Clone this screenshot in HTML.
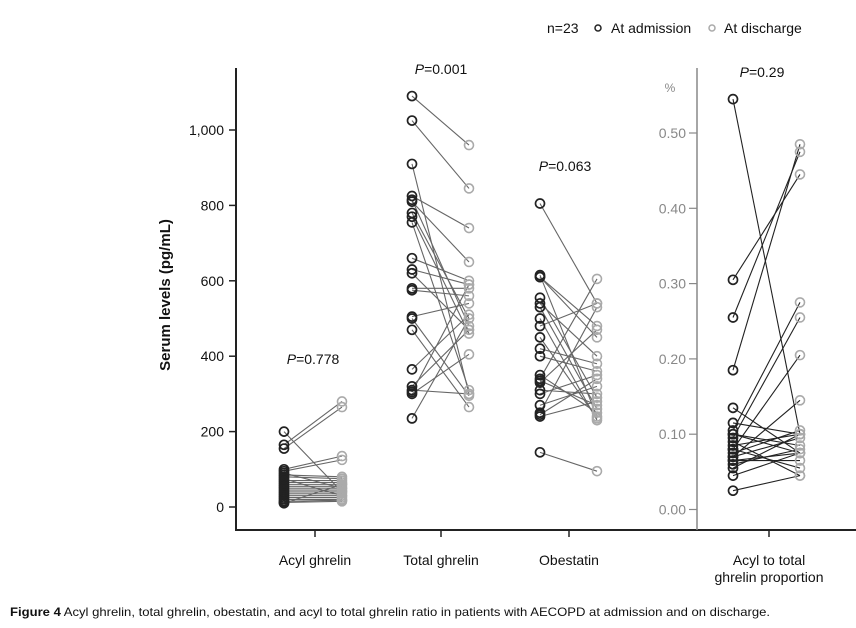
<!DOCTYPE html>
<html><head><meta charset="utf-8"><style>
body{margin:0;background:#fff;width:856px;height:623px;overflow:hidden;font-family:"Liberation Sans",Arial,sans-serif}
svg text{font-family:"Liberation Sans",Arial,sans-serif}
</style></head><body>
<svg id="chart" width="856" height="623">
<g id="marks"></g>
</svg>
<script>
const groups = ["Acyl ghrelin","Total ghrelin","Obestatin"];
const pLabels = ["P=0.778","P=0.001","P=0.063","P=0.29"];
const leftTicks = [0,200,400,600,800,1000];
const leftTickLabels = ["0","200","400","600","800","1,000"];
const rightTicks = [0,0.1,0.2,0.3,0.4,0.5];
const rightTickLabels = ["0.00","0.10","0.20","0.30","0.40","0.50"];
const acylAdm = [200,165,155,100,95,85,80,70,65,60,55,50,45,40,35,30,25,20,15,10,90,75,12];
const acylDis = [40,280,265,135,125,80,75,70,65,60,55,50,45,40,35,30,25,20,18,60,50,30,15];
const totalAdm = [1090,1025,910,825,815,810,780,770,755,660,630,620,580,575,505,500,470,365,320,310,305,300,235];
const totalDis = [960,845,300,740,480,650,500,460,310,600,590,470,580,560,540,295,265,510,470,300,590,405,500];
const obAdm = [805,615,610,610,555,540,530,500,480,450,420,400,350,340,335,330,310,300,270,250,245,240,145];
const obDis = [540,240,450,480,290,400,260,230,540,235,380,360,250,605,270,470,300,350,320,530,340,280,95];
const ratioAdm = [0.545,0.305,0.255,0.185,0.135,0.115,0.105,0.10,0.10,0.095,0.09,0.085,0.08,0.08,0.075,0.07,0.07,0.065,0.065,0.06,0.055,0.045,0.025];
const ratioDis = [0.10,0.445,0.475,0.485,0.075,0.10,0.275,0.075,0.085,0.255,0.045,0.10,0.205,0.055,0.105,0.145,0.095,0.065,0.075,0.08,0.10,0.075,0.045];

const NS="http://www.w3.org/2000/svg";
const svg=document.getElementById('chart');
const marks=document.getElementById('marks');
function yL(v){return 507-v*0.377;}
function yR(v){return 509.5-v*753;}
function mk(tag,attrs,parent,text){const e=document.createElementNS(NS,tag);for(const k in attrs)e.setAttribute(k,attrs[k]);if(text!==undefined)e.textContent=text;(parent||svg).appendChild(e);return e;}

let e;
e=mk('line',{x1:236,y1:68,x2:236,y2:531,stroke:'#222','stroke-width':2});


e=mk('line',{x1:235,y1:530,x2:856,y2:530,stroke:'#222','stroke-width':2});


e=mk('line',{x1:697,y1:68,x2:697,y2:530,stroke:'#888','stroke-width':1.5});



leftTicks.forEach((t,i)=>{
  e=mk('line',{x1:229,y1:yL(t),x2:236,y2:yL(t),stroke:'#222','stroke-width':1.5});
  
  
  e=mk('text',{x:224,y:yL(t)+5,'text-anchor':'end','font-size':14,fill:'#111'},svg,leftTickLabels[i]);
  
  
});
rightTicks.forEach((t,i)=>{
  e=mk('line',{x1:689,y1:yR(t),x2:697,y2:yR(t),stroke:'#888','stroke-width':1.2});
  
  
  e=mk('text',{x:686,y:yR(t)+5,'text-anchor':'end','font-size':14,fill:'#888'},svg,rightTickLabels[i]);
  
  
});
e=mk('text',{x:670,y:92,'text-anchor':'middle','font-size':12,fill:'#888'},svg,'%');



const cats=[{c:315,a:284,d:342,adm:acylAdm,dis:acylDis,y:yL},{c:441,a:412,d:469,adm:totalAdm,dis:totalDis,y:yL},{c:569,a:540,d:597,adm:obAdm,dis:obDis,y:yL},{c:769,a:733,d:800,adm:ratioAdm,dis:ratioDis,y:yR}];
const xLabels=[["Acyl ghrelin"],["Total ghrelin"],["Obestatin"],["Acyl to total","ghrelin proportion"]];
const pPos=[[313,364],[441,74],[565,171],[762,77]];
cats.forEach((g,gi)=>{
  e=mk('line',{x1:g.c,y1:530,x2:g.c,y2:537,stroke:'#222','stroke-width':1.5});
  
  
  xLabels[gi].forEach((l,li)=>{
    e=mk('text',{x:g.c,y:565+li*17,'text-anchor':'middle','font-size':14,fill:'#111'},svg,l);
    
    
  });
  const pt=mk('text',{x:pPos[gi][0],y:pPos[gi][1],'text-anchor':'middle','font-size':14,fill:'#111'});
  
  
  mk('tspan',{'font-style':'italic'},pt,'P');
  mk('tspan',{},pt,pLabels[gi].slice(1));
  const lc=gi===3?'#222':'#666';
  g.adm.forEach((v,i)=>{
    e=mk('line',{x1:g.a,y1:g.y(v),x2:g.d,y2:g.y(g.dis[i]),stroke:lc,'stroke-width':1.1},marks);
    
    
  });
  g.dis.forEach(v=>{
    e=mk('circle',{cx:g.d,cy:g.y(v),r:4.5,fill:'none',stroke:'#aaa','stroke-width':1.6},marks);
    
    
  });
  g.adm.forEach(v=>{
    e=mk('circle',{cx:g.a,cy:g.y(v),r:4.5,fill:'none',stroke:'#222','stroke-width':1.7},marks);
    
    
  });
});

e=mk('text',{x:0,y:0,'text-anchor':'middle','font-size':15,'font-weight':'bold',fill:'#111',transform:'translate(170,295) rotate(-90)'},svg,'Serum levels (pg/mL)');



e=mk('text',{x:547,y:33,'font-size':14,fill:'#111'},svg,'n=23');


e=mk('circle',{cx:598,cy:28,r:3,fill:'none',stroke:'#222','stroke-width':1.5});


e=mk('text',{x:611,y:33,'font-size':14,fill:'#111'},svg,'At admission');


e=mk('circle',{cx:712,cy:28,r:3,fill:'none',stroke:'#aaa','stroke-width':1.5});


e=mk('text',{x:724,y:33,'font-size':14,fill:'#111'},svg,'At discharge');



const cap=mk('text',{x:10,y:616,'font-size':12,fill:'#111',textLength:760,lengthAdjust:'spacingAndGlyphs'});


mk('tspan',{'font-weight':'bold'},cap,'Figure 4');
mk('tspan',{},cap,' Acyl ghrelin, total ghrelin, obestatin, and acyl to total ghrelin ratio in patients with AECOPD at admission and on discharge.');
</script>
</body></html>
